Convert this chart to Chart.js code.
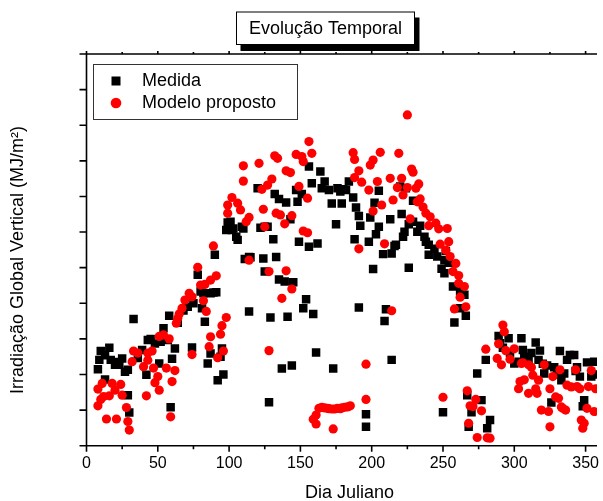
<!DOCTYPE html>
<html>
<head>
<meta charset="utf-8">
<script src="https://cdn.jsdelivr.net/npm/chart.js@4.4.1/dist/chart.umd.min.js"></script>
<style>
html,body{margin:0;padding:0;background:#fff;}
#wrap{width:603px;height:501px;position:relative;}
</style>
</head>
<body>
<div id="wrap"><canvas id="c" width="603" height="501"></canvas></div>
<script>
// ---- Data ----
const medidaDia = [8,9,10,13,13,16,17,20,21,23,25,27,29,29,30,33,36,39,42,43,45,48,51,52,54,57,58,59,60,62,64,68,71,74,75,78,80,81,82,83,85,87,87,89,90,91,92,94,95,96,98,99,101,102,103,105,106,109,110,111,114,114,115,120,122,124,125,125,127,128,129,131,132,133,135,135,137,139,140,141,143,144,145,147,148,149,151,152,154,156,156,158,159,161,162,164,165,167,170,172,173,175,176,178,179,180,182,184,187,188,189,191,191,192,196,196,198,199,201,202,203,205,205,208,209,210,213,214,214,216,217,220,221,222,223,224,226,226,229,229,232,234,237,238,240,240,244,246,249,250,251,251,252,254,257,258,262,262,265,266,267,268,270,274,277,280,281,283,289,290,292,296,297,300,303,305,306,307,310,312,315,317,318,320,321,323,326,328,330,332,333,335,337,339,342,343,344,346,348,349,351,354,356,357];
const medidaValor = [2.15,2.41,2.66,2.54,1.86,2.75,2.41,2.27,2.35,2.27,2.45,2.08,2.13,1.42,0.93,3.56,2.46,2.69,1.99,2.97,3.0,2.87,2.31,2.92,3.30,2.97,3.65,1.08,2.44,2.73,3.45,3.8,3.90,2.76,4.0,4.8,4.33,3.86,4.28,3.48,2.31,4.28,2.59,4.3,5.36,4.31,1.84,2.50,2.73,2.0,6.06,6.27,6.29,6.06,6.10,5.87,5.78,6.15,6.1,5.24,3.77,5.30,5.29,7.23,6.12,5.26,4.89,6.15,6.15,1.22,3.60,5.80,7.07,5.30,6.93,4.67,2.17,4.61,6.83,3.62,6.36,2.25,4.59,7.18,6.85,5.73,7.07,3.86,4.11,5.59,7.84,7.37,3.70,2.62,5.68,7.70,7.23,7.42,7.18,6.80,2.17,6.22,7.23,7.14,6.80,7.2,7.18,7.42,6.97,5.80,6.69,3.88,6.45,6.18,0.88,0.53,5.73,6.41,4.96,6.82,5.94,6.15,7.16,5.38,3.50,3.83,6.36,2.41,5.40,5.61,5.64,7.28,6.51,5.87,6.01,7.23,6.22,5.00,6.88,6.29,6.01,6.18,5.87,5.73,5.64,5.36,5.53,5.31,4.97,0.94,5.21,4.84,5.47,5.14,4.47,3.46,4.35,3.86,4.24,3.65,1.42,0.53,0.94,2.03,1.28,2.41,0.49,0.72,3.08,2.88,2.75,3.02,2.6,2.31,2.36,3.02,2.69,2.5,2.43,2.6,2.90,2.41,2.67,2.3,2.03,2.25,1.21,2.2,2.0,2.66,1.84,2.03,2.41,2.55,2.55,2.1,2.2,1.94,1.11,1.28,2.34,1.94,2.36,2.0];

const modeloDia = [8,8,10,11,12,14,16,18,20,21,24,25,28,29,30,32,33,36,40,42,43,43,46,47,48,50,51,51,54,56,58,59,60,62,63,64,65,67,69,72,74,74,78,80,82,83,84,86,87,87,89,91,92,94,95,96,98,99,99,102,106,108,110,110,112,114,114,121,123,124,125,127,128,128,130,132,133,134,136,137,139,140,140,143,144,144,147,149,151,152,152,155,155,156,158,159,161,161,163,165,167,169,170,172,173,174,176,178,179,181,183,185,187,188,188,191,191,193,196,196,198,199,201,201,204,206,207,209,213,214,215,218,219,221,222,225,225,227,228,229,231,232,233,234,236,238,240,241,245,247,248,250,252,253,254,255,257,258,259,261,261,262,265,266,267,268,269,271,273,274,277,280,281,283,288,289,291,292,293,294,297,300,303,304,305,306,307,310,310,312,313,315,316,317,319,321,324,325,325,327,329,331,332,333,334,336,337,340,343,344,346,347,348,349,351,352,354,356,357];
const modeloValor = [1.12,1.59,1.3,1.75,1.38,0.75,1.40,1.75,1.56,0.75,1.72,1.42,1.07,0.68,0.44,2.36,2.66,2.60,2.22,1.40,2.60,2.40,2.66,2.18,1.77,1.94,1.56,3.07,3.11,2.18,3.0,0.81,1.80,2.11,3.44,3.58,3.70,3.86,4.09,4.28,4.18,2.56,5.01,4.51,4.07,4.53,3.77,2.78,3.06,4.65,5.61,4.77,2.47,3.13,3.37,2.66,3.60,6.53,6.76,6.97,6.81,6.62,7.86,7.43,6.29,5.21,6.41,7.93,7.20,6.64,6.15,7.32,2.67,4.89,7.49,8.14,6.53,8.07,6.48,4.14,6.23,7.72,4.91,7.67,4.40,6.46,8.18,7.28,8.12,7.98,6.03,5.98,6.95,8.54,8.21,0.74,0.86,0.61,1.05,1.08,1.06,1.05,1.04,1.03,0.47,1.03,1.05,1.04,1.06,1.08,1.09,1.12,8.23,8.04,7.53,5.53,7.72,7.40,2.29,1.30,7.18,7.88,6.59,8.02,7.42,8.24,6.76,5.67,7.51,3.79,6.90,7.25,8.21,7.51,7.04,9.29,7.25,6.37,7.77,7.68,7.23,6.85,7.35,6.93,6.70,6.53,6.18,6.43,6.25,6.09,5.66,1.36,5.49,6.10,5.73,5.31,4.89,3.84,5.12,4.78,4.56,4.17,4.47,3.90,1.54,0.63,1.12,1.1,1.3,0.23,0.98,2.71,0.22,0.21,2.45,2.86,2.27,3.39,3.2,2.67,2.43,2.72,1.60,1.80,2.31,2.33,1.85,1.47,2.27,2.2,1.98,1.6,1.47,1.84,1.0,2.27,0.96,1.6,0.53,1.94,1.37,1.33,2.13,1.09,1.05,1.0,1.7,1.65,2.13,1.66,1.6,0.72,0.49,0.63,1.05,1.66,2.11,0.96,1.6];

const xTicks = [0,50,100,150,200,250,300,350];
const tituloGrafico = 'Evolução Temporal';
const tituloX = 'Dia Juliano';
const tituloY = 'Irradiação Global Vertical (MJ/m²)';
const nomes = ['Medida','Modelo proposto'];

const FONT = "'Liberation Sans', Arial, Helvetica, sans-serif";

function pts(xs, ys){ return xs.map((d,i)=>({x:d, y:ys[i]})); }

const decor = {
  id: 'decor',
  afterDraw(chart){
    const {ctx, chartArea:a, scales:{x, y}} = chart;
    ctx.save();
    ctx.strokeStyle = '#000';
    ctx.lineWidth = 1.6;
    ctx.beginPath();
    // axes frame (left, bottom, top)
    ctx.moveTo(a.left, a.top); ctx.lineTo(a.left, a.bottom); ctx.lineTo(a.right, a.bottom);
    ctx.moveTo(a.left, a.top); ctx.lineTo(a.right, a.top);
    // y ticks (outward)
    y.ticks.forEach(t=>{ const py = y.getPixelForValue(t.value); ctx.moveTo(a.left-7, py); ctx.lineTo(a.left, py); });
    // x ticks
    x.ticks.forEach(t=>{
      const px = x.getPixelForValue(t.value);
      const major = xTicks.includes(t.value);
      ctx.moveTo(px, a.bottom); ctx.lineTo(px, a.bottom + (major ? 6 : 3.5));
      ctx.moveTo(px, a.top); ctx.lineTo(px, a.top - (major ? 3 : 2));
    });
    ctx.stroke();

    // Title box with shadow
    const bx = 236, by = 11.5, bw = 179, bh = 33.5;
    ctx.fillStyle = '#000';
    ctx.fillRect(bx + 4.5, by + 6, bw, bh);
    ctx.fillStyle = '#fff';
    ctx.fillRect(bx, by, bw, bh);
    ctx.lineWidth = 1;
    ctx.strokeStyle = '#000';
    ctx.strokeRect(bx + 0.5, by + 0.5, bw - 1, bh - 1);
    ctx.fillStyle = '#000';
    ctx.font = '18px ' + FONT;
    ctx.textAlign = 'center';
    ctx.textBaseline = 'middle';
    ctx.fillText(tituloGrafico, bx + bw/2, by + bh/2 + 1);

    // Legend box
    const lx = 93.5, ly = 64.5, lw = 204, lh = 55;
    ctx.fillStyle = '#fff';
    ctx.fillRect(lx, ly, lw, lh);
    ctx.strokeStyle = '#333';
    ctx.strokeRect(lx, ly, lw, lh);
    const ds = chart.data.datasets;
    ctx.fillStyle = ds[0].backgroundColor;
    ctx.fillRect(116 - 4.5, 81 - 4.5, 9, 9);
    ctx.fillStyle = ds[1].backgroundColor;
    ctx.beginPath(); ctx.arc(116, 103, 5.3, 0, Math.PI*2); ctx.fill();
    ctx.fillStyle = '#000';
    ctx.textAlign = 'left';
    ctx.fillText(nomes[0], 142, 81.5);
    ctx.fillText(nomes[1], 142, 103.5);

    // Axis titles
    ctx.textAlign = 'center';
    ctx.fillText(tituloX, 349.5, 493);
    ctx.save();
    ctx.translate(18.5, 260);
    ctx.rotate(-Math.PI/2);
    ctx.fillText(tituloY, 0, 0);
    ctx.restore();
    ctx.restore();
  }
};

new Chart(document.getElementById('c'), {
  type: 'scatter',
  data: {
    datasets: [
      { label: nomes[0], data: pts(medidaDia, medidaValor), pointStyle: 'rect', pointRadius: 6, backgroundColor: '#000000', borderWidth: 0, order: 2 },
      { label: nomes[1], data: pts(modeloDia, modeloValor), pointStyle: 'circle', pointRadius: 4.6, backgroundColor: '#ff0000', borderWidth: 0, order: 1 }
    ]
  },
  options: {
    responsive: false,
    animation: false,
    events: [],
    layout: { padding: { top: 54, left: 0, right: 0, bottom: 0 } },
    plugins: { legend: { display: false }, title: { display: false }, tooltip: { enabled: false } },
    scales: {
      x: {
        type: 'linear', min: 0, max: 358, position: 'bottom',
        grid: { display: false, drawTicks: false },
        border: { display: false },
        ticks: {
          stepSize: 25, includeBounds: false, autoSkip: false, maxRotation: 0,
          padding: 8, color: '#000', font: { family: FONT, size: 16 },
          callback: (v) => xTicks.includes(v) ? String(v) : ''
        },
        afterFit: (s) => { s.height = 55.3; s.paddingLeft = 0; s.paddingRight = 0; }
      },
      y: {
        type: 'linear', min: 0, max: 11,
        grid: { display: false, drawTicks: false },
        border: { display: false },
        ticks: { stepSize: 1, display: false },
        afterFit: (s) => { s.width = 86.5; s.paddingTop = 0; s.paddingBottom = 0; }
      }
    }
  },
  plugins: [decor]
});
</script>
</body>
</html>
